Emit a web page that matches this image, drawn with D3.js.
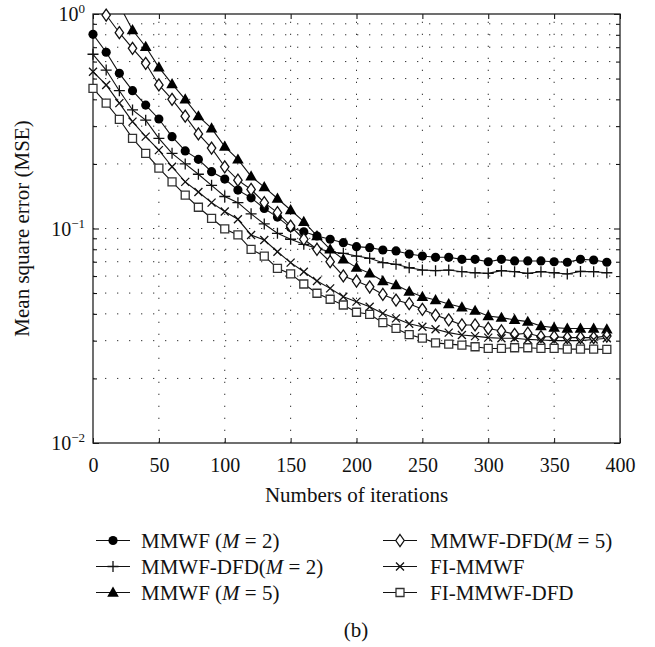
<!DOCTYPE html>
<html>
<head>
<meta charset="utf-8">
<script src="https://cdn.jsdelivr.net/npm/d3@7"></script>
<style>
  html, body { margin: 0; padding: 0; background: #fff; }
  svg { display: block; font-family: "Liberation Serif", "Times New Roman", serif; }
</style>
</head>
<body>
<svg id="chart" width="655" height="647"></svg>
<script>
// ---------------- data ----------------
const iterations = [0,10,20,30,40,50,60,70,80,90,100,110,120,130,140,150,160,170,180,190,
                    200,210,220,230,240,250,260,270,280,290,300,310,320,330,340,350,360,370,380,390];

const mmwfM2 = [0.804,0.663,0.529,0.439,0.376,0.324,0.268,0.230,0.210,0.184,0.170,0.151,0.139,0.124,0.113,0.101,
  0.0966,0.0923,0.0891,0.0859,0.0823,0.0814,0.0794,0.0786,0.0760,0.0744,0.0734,0.0734,0.0718,0.0718,0.0700,0.0718,
  0.0706,0.0706,0.0706,0.0700,0.0696,0.0718,0.0713,0.0696];

const mmwfDfdM2 = [0.649,0.548,0.439,0.357,0.320,0.263,0.224,0.200,0.179,0.159,0.141,0.132,0.117,0.105,0.0950,0.0891,
  0.0844,0.0808,0.0779,0.0766,0.0744,0.0726,0.0693,0.0681,0.0656,0.0640,0.0636,0.0640,0.0629,0.0622,0.0618,0.0636,
  0.0629,0.0618,0.0629,0.0622,0.0614,0.0631,0.0629,0.0622];

const mmwfM5 = [null,null,1.1,0.842,0.704,0.564,0.472,0.400,0.334,0.293,0.241,0.210,0.175,0.156,0.138,0.122,
  0.1076,0.0923,0.0800,0.0718,0.0657,0.0618,0.0569,0.0545,0.0508,0.0481,0.0464,0.0445,0.0429,0.0414,0.0391,0.0384,
  0.0375,0.0368,0.0351,0.0345,0.0342,0.0342,0.0342,0.0339];

const mmwfDfdM5 = [null,0.989,0.818,0.692,0.589,0.467,0.400,0.334,0.276,0.237,0.194,0.168,0.152,0.132,0.1185,0.1027,
  0.0891,0.0800,0.0700,0.0601,0.0569,0.0535,0.0493,0.0464,0.0446,0.0420,0.0395,0.0375,0.0355,0.0355,0.0342,0.0333,
  0.0321,0.0325,0.0313,0.0313,0.0310,0.0310,0.0310,0.0315];

const fiMmwf = [0.538,0.467,0.384,0.315,0.268,0.232,0.194,0.165,0.148,0.132,0.120,0.1104,0.0933,0.0884,0.0779,0.0693,
  0.0629,0.0569,0.0526,0.0481,0.0456,0.0432,0.0402,0.0381,0.0360,0.0348,0.0339,0.0327,0.0319,0.0315,0.0310,0.0308,
  0.0308,0.0304,0.0302,0.0300,0.0300,0.0300,0.0304,0.0308];

const fiMmwfDfd = [0.450,0.384,0.323,0.263,0.224,0.191,0.165,0.143,0.1256,0.1116,0.0995,0.0933,0.0800,0.0744,0.0652,0.0614,
  0.0551,0.0499,0.0468,0.0440,0.0407,0.0398,0.0364,0.0342,0.0320,0.0308,0.0293,0.0289,0.0286,0.0281,0.0276,0.0276,
  0.0278,0.0278,0.0276,0.0276,0.0274,0.0274,0.0274,0.0273];

const seriesNames = ["MMWF (M = 2)", "MMWF-DFD(M = 2)", "MMWF (M = 5)", "MMWF-DFD(M = 5)", "FI-MMWF", "FI-MMWF-DFD"];
const seriesMarkers = ["circle", "plus", "triangle", "diamond", "cross", "square"];
const seriesValues = [mmwfM2, mmwfDfdM2, mmwfM5, mmwfDfdM5, fiMmwf, fiMmwfDfd];

const xTicks = [0,50,100,150,200,250,300,350,400];
const yMajor = [0.01, 0.1, 1];
const yMajorExp = ["−2", "−1", "0"];
const yMinor = [0.02,0.03,0.04,0.05,0.06,0.07,0.08,0.09,0.2,0.3,0.4,0.5,0.6,0.7,0.8,0.9];
const xLabel = "Numbers of iterations";
const yLabel = "Mean square error (MSE)";
const caption = "(b)";

// ---------------- layout ----------------
const L = 93, R = 620, T = 14, B = 443;
const svg = d3.select("#chart");
const x = d3.scaleLinear().domain([0, 400]).range([L, R]);
const y = d3.scaleLog().domain([0.01, 1]).range([B, T]);

svg.append("defs").append("clipPath").attr("id", "plotclip")
  .append("rect").attr("x", L).attr("y", T).attr("width", R - L).attr("height", B - T);

// grid
const grid = svg.append("g").attr("stroke", "#333").attr("stroke-width", 1)
  .attr("stroke-dasharray", "1.3,10.7").attr("fill", "none");
xTicks.filter(v => v > 0 && v < 400).forEach(v => {
  grid.append("line").attr("x1", x(v)).attr("x2", x(v)).attr("y1", B).attr("y2", T);
});
yMinor.concat([0.1]).forEach(v => {
  grid.append("line").attr("x1", L).attr("x2", R).attr("y1", y(v)).attr("y2", y(v));
});

// axes (inside ticks)
const fontTick = 20;
const xAxisB = svg.append("g").attr("transform", `translate(0,${B})`)
  .call(d3.axisBottom(x).tickValues(xTicks).tickSizeInner(-5).tickSizeOuter(0).tickPadding(15));
xAxisB.select(".domain").remove();
xAxisB.selectAll("text").attr("font-size", fontTick).attr("font-family", "Liberation Serif, serif").attr("fill", "#111");
xAxisB.selectAll("line").attr("stroke", "#111");

const xAxisT = svg.append("g").attr("transform", `translate(0,${T})`)
  .call(d3.axisTop(x).tickValues(xTicks).tickSizeInner(-5).tickSizeOuter(0).tickFormat(""));
xAxisT.select(".domain").remove();

const yAxisLmaj = svg.append("g").attr("transform", `translate(${L},0)`)
  .call(d3.axisLeft(y).tickValues(yMajor).tickSizeInner(-6).tickSizeOuter(0).tickFormat(""));
yAxisLmaj.select(".domain").remove();
const yAxisLmin = svg.append("g").attr("transform", `translate(${L},0)`)
  .call(d3.axisLeft(y).tickValues(yMinor).tickSizeInner(-4).tickSizeOuter(0).tickFormat(""));
yAxisLmin.select(".domain").remove();
const yAxisRmaj = svg.append("g").attr("transform", `translate(${R},0)`)
  .call(d3.axisRight(y).tickValues(yMajor).tickSizeInner(-6).tickSizeOuter(0).tickFormat(""));
yAxisRmaj.select(".domain").remove();
const yAxisRmin = svg.append("g").attr("transform", `translate(${R},0)`)
  .call(d3.axisRight(y).tickValues(yMinor).tickSizeInner(-4).tickSizeOuter(0).tickFormat(""));
yAxisRmin.select(".domain").remove();

// y tick labels 10^k
yMajor.forEach((v, i) => {
  const t = svg.append("text").attr("x", 85).attr("y", y(v) + 7)
    .attr("text-anchor", "end").attr("font-size", fontTick).attr("fill", "#111");
  t.append("tspan").text("10");
  t.append("tspan").attr("dy", -8).attr("font-size", 13).text(yMajorExp[i]);
});

// frame
svg.append("rect").attr("x", L).attr("y", T).attr("width", R - L).attr("height", B - T)
  .attr("fill", "none").attr("stroke", "#222").attr("stroke-width", 1.3);

// markers
function markerPath(type) {
  switch (type) {
    case "circle": return d3.symbol().type(d3.symbolCircle).size(66)();
    case "triangle": return "M0,-6L5.8,4.2L-5.8,4.2Z";
    case "diamond": return "M0,-6L4.2,0L0,6L-4.2,0Z";
    case "square": return "M-4,-4H4V4H-4Z";
    case "plus": return "M-5.5,0H5.5M0,-5.5V5.5";
    case "cross": return "M-4,-4L4,4M-4,4L4,-4";
  }
}
function drawMarker(g, type, cx, cy) {
  const p = g.append("path").attr("d", markerPath(type)).attr("transform", `translate(${cx},${cy})`);
  if (type === "circle" || type === "triangle") p.attr("fill", "#000").attr("stroke", "none");
  else if (type === "diamond" || type === "square") p.attr("fill", "#fff").attr("stroke", type === "square" ? "#333" : "#111").attr("stroke-width", 1.3);
  else p.attr("fill", "none").attr("stroke", "#111").attr("stroke-width", 1.3);
}

const line = d3.line().defined(d => d.v != null).x(d => x(d.it)).y(d => y(d.v));
const plot = svg.append("g").attr("clip-path", "url(#plotclip)");
seriesValues.forEach((vals, si) => {
  const pts = iterations.map((it, i) => ({ it, v: vals[i] }));
  plot.append("path").datum(pts).attr("d", line).attr("fill", "none").attr("stroke", "#111").attr("stroke-width", 1.1);
});
const mk = svg.append("g");
seriesValues.forEach((vals, si) => {
  iterations.forEach((it, i) => {
    const v = vals[i];
    if (v == null || v > 1.02) return;
    drawMarker(mk, seriesMarkers[si], x(it), y(v));
  });
});

// axis titles
svg.append("text").attr("x", (L + R) / 2).attr("y", 502).attr("text-anchor", "middle")
  .attr("font-size", 21).attr("fill", "#111").text(xLabel);
svg.append("text").attr("transform", `translate(29,${(T + B) / 2}) rotate(-90)`).attr("text-anchor", "middle")
  .attr("font-size", 21).attr("fill", "#111").text(yLabel);

// legend
const legCols = [{ lx: 96, tx: 141 }, { lx: 383, tx: 430 }];
const legRows = [540.5, 566.5, 592.5];
seriesNames.forEach((name, i) => {
  const col = legCols[Math.floor(i / 3)], ry = legRows[i % 3];
  const g = svg.append("g");
  g.append("line").attr("x1", col.lx).attr("x2", col.lx + 34).attr("y1", ry).attr("y2", ry)
    .attr("stroke", "#111").attr("stroke-width", 1.2);
  drawMarker(g, seriesMarkers[i], col.lx + 17, ry);
  const t = g.append("text").attr("x", col.tx).attr("y", ry + 7.5).attr("font-size", 21).attr("fill", "#111");
  const m = name.match(/^(.*\()M( = \d\))$/);
  if (m) {
    t.append("tspan").text(m[1]);
    t.append("tspan").attr("font-style", "italic").text("M");
    t.append("tspan").text(m[2]);
  } else {
    t.text(name);
  }
});

svg.append("text").attr("x", 356).attr("y", 637).attr("text-anchor", "middle")
  .attr("font-size", 21).attr("fill", "#111").text(caption);
</script>
</body>
</html>
